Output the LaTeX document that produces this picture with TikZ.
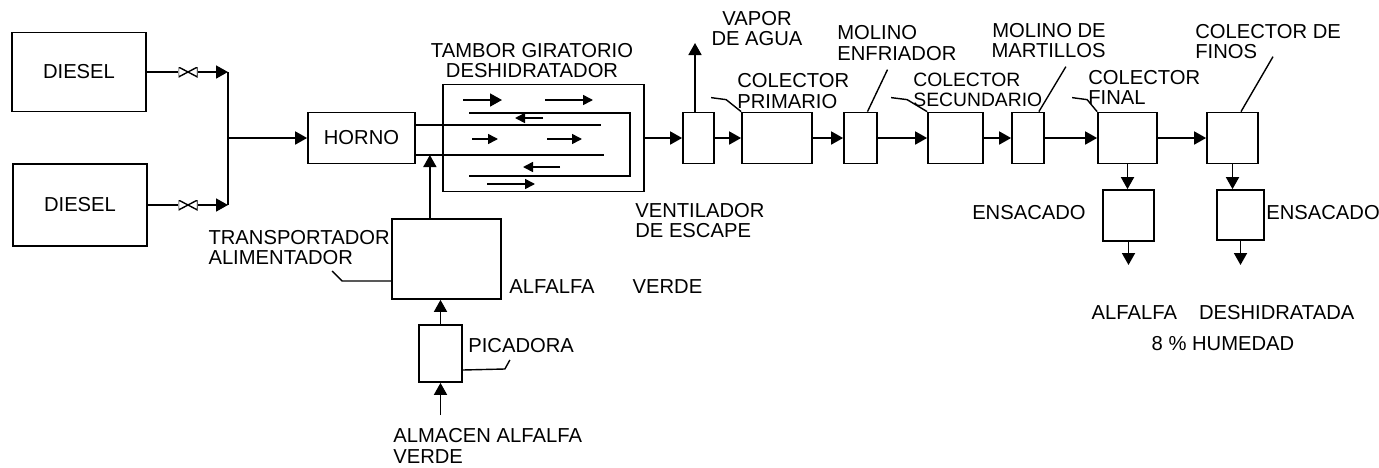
\documentclass[tikz,border=0pt]{standalone}
\usepackage{fontspec}
\setmainfont{Liberation Sans}
\usetikzlibrary{arrows.meta, calc, positioning}

\begin{document}
\begin{tikzpicture}[x=0.02cm, y=-0.02cm, font=\fontsize{11.5}{11.5}\selectfont,
  >={Triangle[length=0.24cm, width=0.26cm]},
  box/.style={draw, line width=1pt, inner sep=0pt},
  rowbox/.style={box, minimum height=1.02cm},
  lbl/.style={inner sep=0pt, align=left},
  pipe/.style={line width=1pt},
  flow/.style={->, line width=1pt},
  lead/.style={line width=0.8pt},
  small/.style={-{Triangle[length=0.2cm, width=0.2cm]}, line width=0.9pt},
  valve/.style={minimum width=0.38cm, minimum height=0.2cm, inner sep=0pt,
    path picture={\draw[line width=0.8pt] (path picture bounding box.north west) -- (path picture bounding box.south east) -- (path picture bounding box.north east) -- (path picture bounding box.south west) -- cycle;}}]
  \useasboundingbox (0,0) rectangle (1379,467);

  % fuel supply
  \node[box, minimum width=2.68cm, minimum height=1.58cm] (d1) at (79,72) {DIESEL};
  \node[box, minimum width=2.68cm, minimum height=1.64cm] (d2) at (80,205) {DIESEL};
  \node[valve] (v1) at (188,72) {};
  \node[valve] (v2) at (188,205) {};
  \coordinate (jtop) at (228,72);
  \coordinate (jbot) at (228,205);

  % main line
  \node[rowbox, minimum width=2.14cm] (horno) at (361.5,138) {HORNO};
  \node[box, minimum width=4.02cm, minimum height=2.14cm] (drum) at (543.5,138) {};
  \node[rowbox, minimum width=0.62cm] (vent) at (698.5,138) {};
  \node[rowbox, minimum width=1.4cm] (colp) at (777,138) {};
  \node[rowbox, minimum width=0.66cm] (molenf) at (860.5,138) {};
  \node[rowbox, minimum width=1.1cm] (cols) at (955.5,138) {};
  \node[rowbox, minimum width=0.64cm] (molmar) at (1028,138) {};
  \node[rowbox, minimum width=1.18cm] (colf) at (1127.5,138) {};
  \node[rowbox, minimum width=1.02cm] (colfin) at (1232.5,138) {};
  \node[box, minimum width=1.02cm, minimum height=1.02cm] (ens1) at (1128.5,215.5) {};
  \node[box, minimum width=0.94cm, minimum height=1.0cm] (ens2) at (1240.5,215) {};

  % feed
  \node[box, minimum width=2.18cm, minimum height=1.6cm] (trans) at (446.5,259) {};
  \node[box, minimum width=0.86cm, minimum height=1.14cm] (pic) at (440.5,353.5) {};
  \coordinate (alm) at (440.5,415);
  \coordinate (vapor) at (695,43);
  \coordinate (bag1) at (1128.5,265);
  \coordinate (bag2) at (1240.5,265);

  % drum inside
  \draw[pipe] ([yshift=0.26cm]horno.east) -- ++(185,0);
  \draw[pipe] ([yshift=-0.34cm]horno.east) -- ++(188,0);
  \path ([yshift=-0.34cm]horno.east) ++(14,0) coordinate (feed);
  \draw[pipe] (469,113) -- (630,113) -- (630,176) -- (469,176);
  \draw[flow] (463,100) -- (502,100);
  \draw[small] (545,100) -- (593,100);
  \draw[small] (543,118) -- (515,118);
  \draw[small] (472,139) -- (498,139);
  \draw[small] (547,139) -- (582,139);
  \draw[small] (560,167) -- (523,167);
  \draw[small] (487,184) -- (535,184);

  % connectors
  \draw[pipe] (d1) -- (v1);
  \draw[flow] (v1) -- (jtop);
  \draw[pipe] (d2) -- (v2);
  \draw[flow] (v2) -- (jbot);
  \draw[pipe] (jtop) -- (jbot);
  \draw[flow] (jtop |- horno) -- (horno);
  \draw[flow] (drum) -- (vent);
  \draw[flow] (vent.north -| vapor) -- (vapor);
  \draw[flow] (vent) -- (colp);
  \draw[flow] (colp) -- (molenf);
  \draw[flow] (molenf) -- (cols);
  \draw[flow] (cols) -- (molmar);
  \draw[flow] (molmar) -- (colf);
  \draw[flow] (colf) -- (colfin);
  \draw[flow] (colf.south) -- (colf.south |- ens1.north);
  \draw[flow] (colfin.south) -- (colfin.south |- ens2.north);
  \draw[flow] (ens1.south) -- (ens1.south |- bag1);
  \draw[flow] (ens2.south) -- (ens2.south |- bag2);
  \draw[flow] (trans.north -| feed) -- (feed);
  \draw[flow] (pic.north) -- (pic.north |- trans.south);
  \draw[flow] (alm) -- (pic.south);

  % labels
  \node[lbl, align=center] (ltambor) at (532,60.5) {TAMBOR GIRATORIO\\DESHIDRATADOR};
  \node[lbl, align=center] (lvapor) at (757,28.5) {VAPOR\\DE AGUA};
  \node[lbl, anchor=west] (lcolp) at (737,91) {COLECTOR\\PRIMARIO};
  \node[lbl, anchor=west] (lmolenf) at (837,43) {MOLINO\\ENFRIADOR};
  \node[lbl, anchor=west, font=\fontsize{11}{11.5}\selectfont] (lcols) at (913,90) {COLECTOR\\SECUNDARIO};
  \node[lbl, anchor=east, align=right] (lmolmar) at (1106,40.5) {MOLINO DE\\MARTILLOS};
  \node[lbl, anchor=west] (lcolf) at (1088,87.5) {COLECTOR\\FINAL};
  \node[lbl, anchor=west] (lcolfin) at (1195,41.5) {COLECTOR DE\\FINOS};
  \node[lbl, anchor=west] (lvent) at (635,220.5) {VENTILADOR\\DE ESCAPE};
  \node[lbl, anchor=west] (lverde) at (509,287) {ALFALFA\hspace{7.6mm}VERDE};
  \node[lbl, anchor=east] (ltrans) at (390,247.5) {TRANSPORTADOR\\ALIMENTADOR};
  \node[lbl, anchor=west] (lpic) at (468,346) {PICADORA};
  \node[lbl, anchor=west] (lalm) at (393,446) {ALMACEN ALFALFA\\VERDE};
  \node[lbl, anchor=east] (lens1) at (1086,213) {ENSACADO};
  \node[lbl, anchor=west] (lens2) at (1266,213) {ENSACADO};
  \node[lbl, align=center] (lprod) at (1223,328) {ALFALFA\hspace{4.4mm}DESHIDRATADA\\[0.22cm]8 \% HUMEDAD};

  % leaders
  \draw[lead] (colp.north west) -- ++(-15,-12) -- ++(-15,-2);
  \draw[lead] (cols.north west) -- ++(-20,-12) -- ++(-16,-2);
  \draw[lead] ([xshift=0.14cm]molenf.north) -- ++(20,-42);
  \draw[lead] ([xshift=-0.12cm]molmar.north east) -- ++(27,-45);
  \draw[lead] (colf.north west) -- ++(-10,-12) -- ++(-15,-2);
  \draw[lead] ([xshift=0.17cm]colfin.north) -- ++(32,-55);
  \draw[lead] ([yshift=-0.44cm]trans.west) -- ++(-49,0) -- ++(-10,-10);
  \draw[lead] ([yshift=-0.33cm]pic.east) -- ++(42,-1) -- ++(5,-9);
\end{tikzpicture}
\end{document}
